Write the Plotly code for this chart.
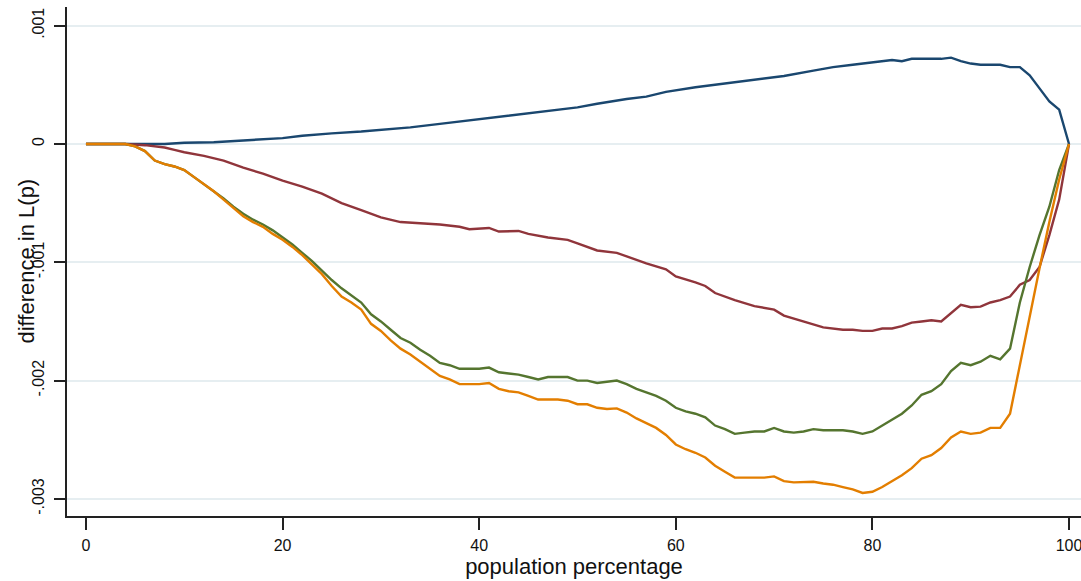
import plotly.graph_objects as go

# ---- data ----
blue_x = [0, 4, 8, 10, 13, 16, 20, 22, 24, 25, 28, 30, 33, 36, 39, 42, 45, 48, 50, 52, 55, 57, 59,
          62, 65, 68, 71, 74, 76, 78, 80, 82, 83, 84, 86, 87, 88, 89, 90, 91, 93, 94, 95, 96, 97,
          98, 99, 100]
blue_y = [0, 0, 0, 0.00001, 0.000015, 0.00003, 0.00005, 0.00007, 0.000085, 0.00009, 0.000105,
          0.00012, 0.00014, 0.00017, 0.0002, 0.00023, 0.00026, 0.00029, 0.00031, 0.00034, 0.00038,
          0.0004, 0.00044, 0.00048, 0.00051, 0.00054, 0.000575, 0.00062, 0.00065, 0.00067,
          0.00069, 0.00071, 0.0007, 0.00072, 0.00072, 0.00072, 0.00073, 0.0007, 0.00068, 0.00067,
          0.00067, 0.00065, 0.00065, 0.00058, 0.00047, 0.00036, 0.00029, 0]

red_x = [0, 4, 6, 8, 9, 10, 12, 14, 16, 18, 20, 22, 24, 26, 28, 30, 32, 34, 36, 38, 39, 41, 42, 44,
         45, 47, 49, 50, 52, 54, 55, 57, 59, 60, 62, 63, 64, 66, 68, 70, 71, 73, 74, 75, 77, 78,
         79, 80, 81, 82, 83, 84, 85, 86, 87, 88, 89, 90, 91, 92, 93, 94, 95, 96, 97, 98, 99, 100]
red_y = [0, 0, -0.00001, -0.00003, -0.00005, -0.00007, -0.0001, -0.00014, -0.0002, -0.00025,
         -0.00031, -0.00036, -0.00042, -0.0005, -0.00056, -0.00062, -0.00066, -0.00067,
         -0.00068, -0.0007, -0.00072, -0.00071, -0.00074, -0.000735, -0.00076, -0.00079,
         -0.00081, -0.00084, -0.0009, -0.00092, -0.00095, -0.00101, -0.00106, -0.00112,
         -0.00117, -0.0012, -0.00126, -0.00132, -0.00137, -0.0014, -0.00145, -0.0015, -0.00152,
         -0.00155, -0.00157, -0.00157, -0.00158, -0.00158, -0.00156, -0.00156, -0.00154,
         -0.00151, -0.0015, -0.00149, -0.0015, -0.00143, -0.00136, -0.00138, -0.001375,
         -0.00134, -0.00132, -0.00129, -0.00119, -0.00115, -0.00104, -0.00077, -0.00047, 0]

pct = list(range(0, 101))
green_y = [0, 0, 0, 0, 0, -0.00002, -0.00006, -0.00014, -0.00017, -0.00019, -0.00022, -0.00028,
           -0.00034, -0.0004, -0.00046, -0.00053, -0.00059, -0.00064, -0.00068, -0.00073,
           -0.00079, -0.00085, -0.00092, -0.00099, -0.00107, -0.00115, -0.00122, -0.00128,
           -0.00134, -0.00144, -0.0015, -0.00157, -0.00164, -0.00168, -0.00174, -0.00179,
           -0.00185, -0.00187, -0.0019, -0.0019, -0.0019, -0.00189, -0.00193, -0.00194,
           -0.00195, -0.00197, -0.00199, -0.00197, -0.00197, -0.00197, -0.002, -0.002,
           -0.00202, -0.00201, -0.002, -0.00203, -0.00207, -0.0021, -0.00213, -0.00217,
           -0.00223, -0.00226, -0.00228, -0.00231, -0.00238, -0.00241, -0.00245, -0.00244,
           -0.00243, -0.00243, -0.0024, -0.00243, -0.00244, -0.00243, -0.00241, -0.00242,
           -0.00242, -0.00242, -0.00243, -0.00245, -0.00243, -0.00238, -0.00233, -0.00228,
           -0.00221, -0.00212, -0.00209, -0.00203, -0.00192, -0.00185, -0.00187, -0.00184,
           -0.00179, -0.00182, -0.00173, -0.00134, -0.00104, -0.00077, -0.00053, -0.00022, 0]
orange_y = [0, 0, 0, 0, 0, -0.00002, -0.00006, -0.00014, -0.00017, -0.00019, -0.00022, -0.00028,
            -0.00034, -0.0004, -0.00047, -0.00054, -0.00061, -0.00066, -0.0007, -0.00076,
            -0.00081, -0.00087, -0.00094, -0.00102, -0.0011, -0.0012, -0.00129, -0.00134,
            -0.0014, -0.00152, -0.00158, -0.00166, -0.00173, -0.00178, -0.00184, -0.0019,
            -0.00196, -0.00199, -0.00203, -0.00203, -0.00203, -0.00202, -0.00207, -0.00209,
            -0.0021, -0.00213, -0.00216, -0.00216, -0.00216, -0.00217, -0.0022, -0.0022,
            -0.00223, -0.00224, -0.002235, -0.00227, -0.00232, -0.00236, -0.0024, -0.00246,
            -0.00254, -0.00258, -0.00261, -0.00265, -0.00272, -0.00277, -0.00282, -0.00282,
            -0.00282, -0.00282, -0.00281, -0.00285, -0.00286, -0.00286, -0.002855, -0.00287,
            -0.00288, -0.0029, -0.00292, -0.00295, -0.00294, -0.0029, -0.00285, -0.0028,
            -0.00274, -0.00266, -0.00263, -0.00257, -0.00248, -0.00243, -0.00245, -0.00244,
            -0.0024, -0.0024, -0.00228, -0.00186, -0.00146, -0.00105, -0.00066, -0.0003, 0]

x_ticks = [0, 20, 40, 60, 80, 100]
y_tickvals = [0.001, 0, -0.001, -0.002, -0.003]
y_ticktext = [".001", "0", "-.001", "-.002", "-.003"]

x_title = "population percentage"
y_title = "difference in L(p)"

# ---- figure ----
fig = go.Figure()
series = [
    (blue_x, blue_y, "#1a476f"),
    (red_x, red_y, "#90353b"),
    (pct, green_y, "#55752f"),
    (pct, orange_y, "#e37e00"),
]
for xs, ys, col in series:
    fig.add_trace(go.Scatter(x=xs, y=ys, mode="lines",
                             line=dict(color=col, width=2.4), showlegend=False,
                             hoverinfo="skip"))

font_family = "Liberation Sans, Arial, sans-serif"

fig.update_layout(
    width=1081, height=581,
    margin=dict(l=67, r=0, t=7, b=65, autoexpand=False),
    paper_bgcolor="white", plot_bgcolor="white",
    font=dict(family=font_family, color="#111111"),
    showlegend=False,
    xaxis=dict(
        range=[-1.93, 101.22],
        tickvals=x_ticks,
        ticks="outside", ticklen=12, tickwidth=1.5, tickcolor="#222222",
        showline=True, linecolor="#222222", linewidth=1.5,
        showgrid=False, zeroline=False,
        tickfont=dict(size=16, family=font_family, color="#111111"),
        ticklabelstandoff=2,
        ticklabeloverflow="allow",
        title=dict(text=x_title, font=dict(size=22, family=font_family, color="#111111"),
                   standoff=2),
    ),
    yaxis=dict(
        range=[-0.0031446, 0.001158],
        tickvals=y_tickvals, ticktext=y_ticktext,
        tickangle=-90,
        ticks="outside", ticklen=11, tickwidth=1.5, tickcolor="#222222",
        showline=True, linecolor="#222222", linewidth=1.5,
        showgrid=True, gridcolor="#e6eef1", gridwidth=1.5,
        zeroline=False,
        tickfont=dict(size=16, family=font_family, color="#111111"),
        ticklabelstandoff=4,
        ticklabeloverflow="allow",
    ),
    annotations=[dict(
        text=y_title, textangle=-90, showarrow=False,
        xref="paper", yref="paper", x=0, y=0.5,
        xanchor="center", yanchor="middle", xshift=-41,
        font=dict(size=22, family=font_family, color="#111111"),
    )],
)

fig.write_html("out.html",
               config={"displayModeBar": False},
               post_script="document.body.style.margin='0';document.body.style.padding='0';")
